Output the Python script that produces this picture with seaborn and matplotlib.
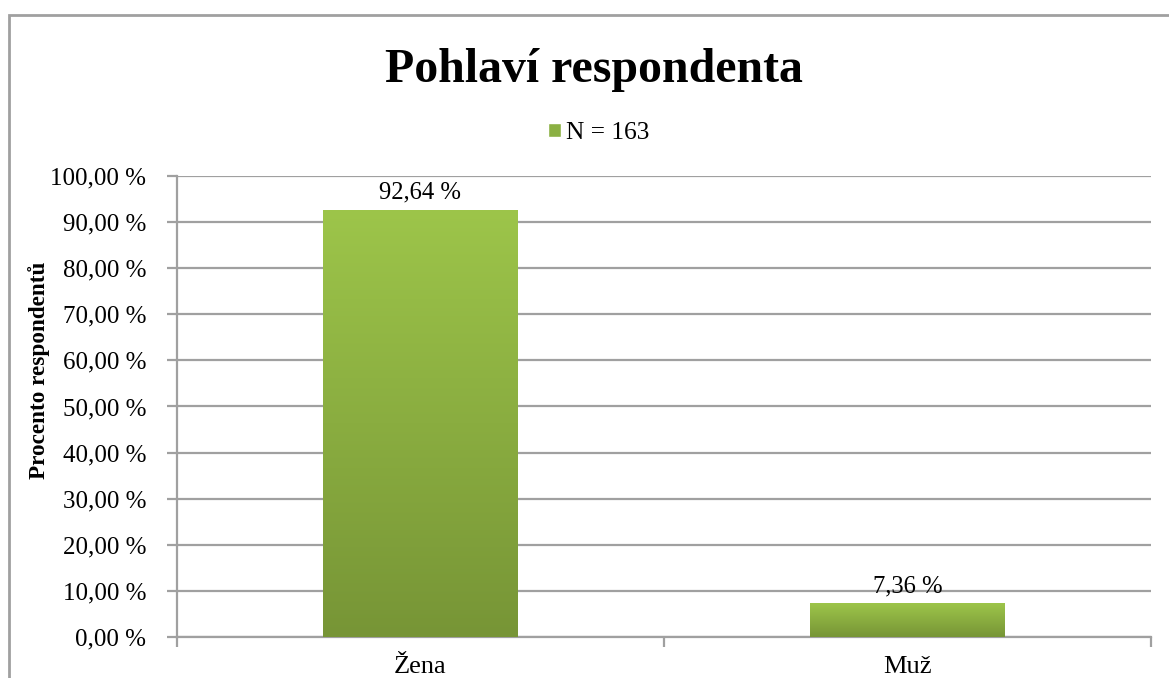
import numpy as np
import pandas as pd
import matplotlib
matplotlib.use("Agg")
import matplotlib.pyplot as plt
import seaborn as sns
from matplotlib.colors import LinearSegmentedColormap
from matplotlib.patches import Rectangle, Patch

# data
kategorie = ["Žena", "Muž"]
procenta = [92.64, 7.36]
legenda = "N = 163"
y_ticks = [0, 10, 20, 30, 40, 50, 60, 70, 80, 90, 100]

df = pd.DataFrame({"pohlavi": kategorie, "procento": procenta})

sns.set_theme(style="white")
plt.rcParams["font.family"] = ["Liberation Serif", "DejaVu Serif"]
plt.rcParams["text.color"] = "black"
plt.rcParams["axes.labelcolor"] = "black"

fig = plt.figure(figsize=(11.69, 6.78), dpi=100)
ax = fig.add_axes([0.1514, 0.0605, 0.8332, 0.6799])

sns.barplot(data=df, x="pohlavi", y="procento", width=0.4, color="#8BB043",
            ax=ax, zorder=3)

# gradient fill for each bar (light on top, dark at bottom)
cmap = LinearSegmentedColormap.from_list("zelena", ["#779536", "#9DC54A"])
grad = np.linspace(0, 1, 256).reshape(-1, 1)
for bar in ax.patches:
    x0, y0 = bar.get_x(), bar.get_y()
    w, h = bar.get_width(), bar.get_height()
    bar.set_facecolor("none")
    bar.set_edgecolor("none")
    im = ax.imshow(grad, cmap=cmap, origin="lower", aspect="auto",
                   extent=[x0, x0 + w, y0, y0 + h], zorder=3)
    im.set_clip_path(bar)

ax.set_xlim(-0.5, 1.5)
ax.set_ylim(0, 100)
ax.set_yticks(y_ticks)
ax.set_yticklabels([f"{t:.2f}".replace(".", ",") + " %" for t in y_ticks], fontsize=18)
ax.set_xticks([0, 1])
ax.set_xticklabels(kategorie, fontsize=19)
ax.set_xlabel("")
ax.set_ylabel("Procento respondentů", fontsize=16.7, fontweight="bold")
ax.yaxis.set_label_coords(-0.130, 0.579)

# grid + axes styling
ax.grid(axis="y", color="#A0A0A0", linewidth=1.6, zorder=0)
ax.set_axisbelow(True)
for s in ["top", "right"]:
    ax.spines[s].set_visible(False)
for s in ["left", "bottom"]:
    ax.spines[s].set_color("#A0A0A0")
    ax.spines[s].set_linewidth(1.6)
ax.tick_params(axis="y", which="both", left=True, length=7, width=1.6,
               color="#A0A0A0", labelcolor="black", pad=15)
ax.tick_params(axis="x", which="both", bottom=False, labelcolor="black", pad=8)
# category separators on x axis
ax.set_xticks([-0.5, 0.5, 1.5], minor=True)
ax.tick_params(axis="x", which="minor", bottom=True, length=7, width=1.6, color="#A0A0A0")

# value labels
for i, v in enumerate(procenta):
    ax.text(i, v + 1.3, f"{v:.2f}".replace(".", ",") + " %", ha="center", va="bottom",
            fontsize=17.7, color="black")

# title and legend
fig.text(0.508, 0.897, "Pohlaví respondenta", ha="center", va="center",
         fontsize=34.5, fontweight="bold", color="black")
fig.legend(handles=[Patch(facecolor="#8BB043", label=legenda)], loc="center",
           bbox_to_anchor=(0.512, 0.804), frameon=False, fontsize=18.3,
           handlelength=0.5, handleheight=0.5, handletextpad=0.2)

# outer chart border
fig.patches.append(Rectangle((9 / 1169, -0.1), 1.2, (678 - 15) / 678 + 0.1,
                             transform=fig.transFigure, fill=False,
                             edgecolor="#A0A0A0", linewidth=2))

fig.savefig("out.png", dpi=100)
